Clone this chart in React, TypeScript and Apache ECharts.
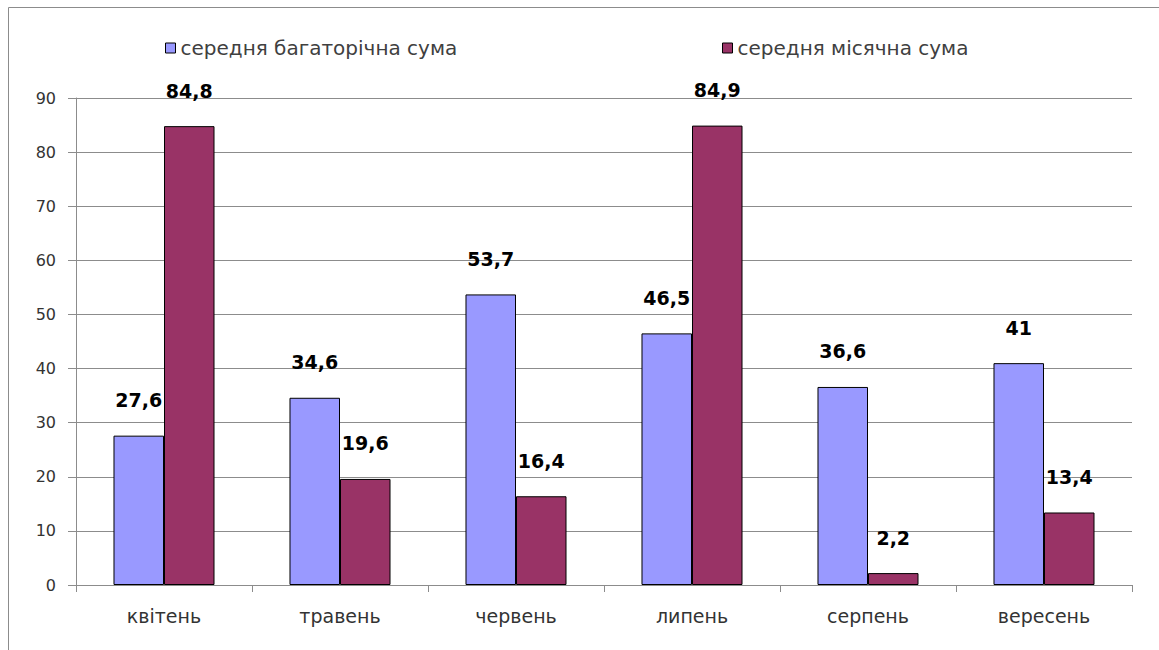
import React, { useEffect, useRef } from "react";
import * as echarts from "echarts";

const categories = ["квітень", "травень", "червень", "липень", "серпень", "вересень"];
const seriesNames = ["середня багаторічна сума", "середня місячна сума"];
const longTermAvg = [27.6, 34.6, 53.7, 46.5, 36.6, 41];
const monthlyAvg = [84.8, 19.6, 16.4, 84.9, 2.2, 13.4];
const yTicks = { min: 0, max: 90, interval: 10 };

const fmt = (v: number) => String(v).replace(".", ",");

export default function App() {
  const ref = useRef<HTMLDivElement>(null);
  useEffect(() => {
    if (!ref.current) return;
    const chart = echarts.init(ref.current, null, { renderer: "svg" });
    const labelStyle = {
      show: true,
      position: "top" as const,
      distance: 26,
      color: "#000",
      fontFamily: "DejaVu Sans",
      fontWeight: "bold" as const,
      fontSize: 19,
      formatter: (p: any) => fmt(p.value),
    };
    const legendText = { color: "#404040", fontFamily: "DejaVu Sans", fontSize: 20 };
    const legendCommon = {
      top: 33,
      itemWidth: 10,
      itemHeight: 10,
      itemGap: 4,
      icon: "rect",
      textStyle: legendText,
      itemStyle: { borderColor: "#000", borderWidth: 1 },
      selectedMode: false,
    };
    chart.setOption({
      animation: false,
      backgroundColor: "#fff",
      graphic: [
        {
          type: "rect",
          shape: { x: 8.5, y: 7.5, width: 1200, height: 700 },
          style: { fill: "none", stroke: "#8c8c8c", lineWidth: 1 },
          silent: true,
        },
      ],
      legend: [
        { ...legendCommon, data: [seriesNames[0]], left: 160 },
        { ...legendCommon, data: [seriesNames[1]], left: 717 },
      ],
      grid: { left: 76, right: 27, top: 98, bottom: 65, containLabel: false },
      xAxis: {
        type: "category",
        data: categories,
        boundaryGap: true,
        axisLine: { lineStyle: { color: "#8c8c8c", width: 1 } },
        axisTick: { show: true, length: 7, alignWithLabel: false, lineStyle: { color: "#8c8c8c" } },
        axisLabel: { color: "#333", fontFamily: "DejaVu Sans", fontSize: 19, margin: 21 },
      },
      yAxis: {
        type: "value",
        min: yTicks.min,
        max: yTicks.max,
        interval: yTicks.interval,
        axisLine: { show: true, lineStyle: { color: "#8c8c8c", width: 1 } },
        axisTick: { show: true, length: 8, lineStyle: { color: "#8c8c8c" } },
        axisLabel: { color: "#333", fontFamily: "DejaVu Sans", fontSize: 16, margin: 20 },
        splitLine: { show: true, lineStyle: { color: "#8c8c8c", width: 1 } },
      },
      series: [
        {
          name: seriesNames[0],
          type: "bar",
          data: longTermAvg,
          barGap: "0%",
          barCategoryGap: "42.6%",
          itemStyle: { color: "#9999FF", borderColor: "#000", borderWidth: 1 },
          label: labelStyle,
        },
        {
          name: seriesNames[1],
          type: "bar",
          data: monthlyAvg,
          barGap: "0%",
          barCategoryGap: "42.6%",
          itemStyle: { color: "#993366", borderColor: "#000", borderWidth: 1 },
          label: labelStyle,
        },
      ],
    });
    return () => chart.dispose();
  }, []);
  return (
    <div
      ref={ref}
      style={{ position: "fixed", left: 0, top: 0, width: 1159, height: 650 }}
    />
  );
}
